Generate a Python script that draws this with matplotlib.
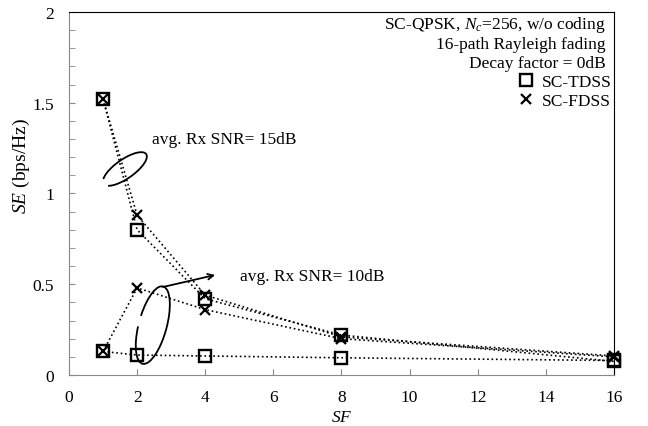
import matplotlib
matplotlib.use('agg')
import matplotlib.pyplot as plt
import matplotlib.transforms as mtransforms
from matplotlib.patches import Arc
from matplotlib.lines import Line2D
from matplotlib.ticker import MultipleLocator

plt.rcParams['font.family'] = ['Liberation Serif', 'DejaVu Serif']
plt.rcParams['mathtext.fontset'] = 'custom'
plt.rcParams['mathtext.it'] = 'Liberation Serif:italic'
plt.rcParams['mathtext.rm'] = 'Liberation Serif'

sf = [1, 2, 4, 8, 16]
tdss_15db = [1.52, 0.80, 0.42, 0.22, 0.075]
fdss_15db = [1.52, 0.88, 0.44, 0.21, 0.105]
tdss_10db = [0.13, 0.11, 0.105, 0.095, 0.08]
fdss_10db = [0.13, 0.48, 0.36, 0.20, 0.10]

fs = 12.5
fig = plt.figure(figsize=(6.48, 4.27), dpi=100)
ax = fig.add_axes([0.1065, 0.1194, 0.841, 0.8502])

sq = dict(marker='s', markersize=8, mfc='none', mec='black', mew=1.7)
xx = dict(marker='x', markersize=7, mec='black', mew=1.6)
for y in (tdss_15db, tdss_10db):
    ax.plot(sf, y, linestyle=':', color='black', lw=1.2, clip_on=False, **sq)
for y in (fdss_15db, fdss_10db):
    ax.plot(sf, y, linestyle=':', color='black', lw=1.2, clip_on=False, **xx)

ax.set_xlim(0, 16)
ax.set_ylim(0, 2)
ax.xaxis.set_major_locator(MultipleLocator(2))
ax.yaxis.set_major_locator(MultipleLocator(0.5))
ax.yaxis.set_minor_locator(MultipleLocator(0.1))
ax.yaxis.set_major_formatter(plt.FuncFormatter(lambda v, p: f"{v:g}"))
ax.tick_params(direction='in', length=4, color='#888888', labelsize=fs)
ax.tick_params(which='minor', direction='in', length=4, color='#888888')
ax.tick_params(axis='y', pad=11)
ax.tick_params(axis='x', pad=10)
for s in ('left', 'bottom'):
    ax.spines[s].set_color('#888888')
for s in ('top', 'right'):
    ax.spines[s].set_color('black')

ax.set_xlabel('$\\it{SF}$', fontsize=fs, labelpad=3)
ax.set_ylabel('$\\it{SE}$ (bps/Hz)', fontsize=14)
ax.yaxis.set_label_coords(-0.068, 0.578)

# condition text
ax.text(0.985, 0.995, 'SC-QPSK, $N_c$=256, w/o coding\n16-path Rayleigh fading\nDecay factor = 0dB',
        transform=ax.transAxes, ha='right', va='top', fontsize=fs, linespacing=1.2)
handles = [Line2D([], [], linestyle='none', **sq), Line2D([], [], linestyle='none', **xx)]
ax.legend(handles, ['SC-TDSS', 'SC-FDSS'], loc='upper right', bbox_to_anchor=(0.995, 0.83),
          frameon=False, fontsize=fs, handlelength=1.0, handletextpad=0.4, labelspacing=0.15,
          borderaxespad=0, borderpad=0)

# loops around curve groups (sizes in inches, centred on data points)
def loop(cx, cy, w, h, ang, t1, t2):
    tr = fig.dpi_scale_trans + mtransforms.ScaledTranslation(cx, cy, ax.transData)
    ax.add_patch(Arc((0, 0), w, h, angle=ang, theta1=t1, theta2=t2,
                     transform=tr, color='black', lw=1.3))

loop(1.64, 1.135, 0.52, 0.19, 35, 190, 170)
loop(2.46, 0.275, 0.80, 0.28, 75, 110, 67)

ax.text(2.44, 1.30, 'avg. Rx SNR= 15dB', fontsize=fs, va='center', ha='left')
ax.text(5.02, 0.545, 'avg. Rx SNR= 10dB', fontsize=fs, va='center', ha='left')
ax.annotate('', xy=(4.29, 0.551), xytext=(2.76, 0.485),
            arrowprops=dict(arrowstyle='->', color='black', lw=1.3, shrinkA=0, shrinkB=0))

fig.savefig('out.png', dpi=100)
